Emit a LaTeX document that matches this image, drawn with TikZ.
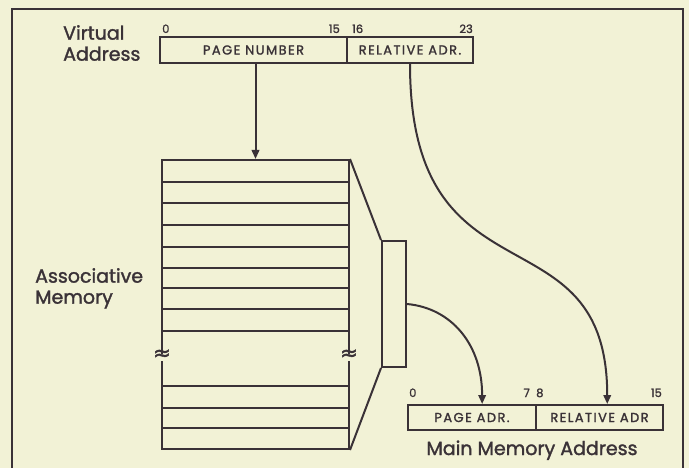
\documentclass[tikz,border=0pt]{standalone}
\usepackage{fontspec}
\setmainfont{Poppins}[FakeBold=1.6]
\newfontfamily\capfont{Poppins}[LetterSpace=11,FakeBold=1.6]
\newfontfamily\symfont{DejaVu Sans}[FakeBold=2]
\usetikzlibrary{arrows.meta,calc}
\definecolor{paper}{RGB}{242,242,214}
\definecolor{ink}{RGB}{58,50,55}
\tikzset{
  field/.style={draw=ink, line width=2pt, minimum height=26pt, inner sep=0pt,
    text=ink, font=\capfont\fontsize{13}{13}\selectfont},
  block/.style={draw=ink, line width=2pt, inner sep=0pt},
  bitno/.style={inner sep=0pt, text=ink, font=\fontsize{11.5}{11.5}\selectfont},
  caption/.style={inner sep=0pt, text=ink, align=left, font=\fontsize{19}{21}\selectfont},
  brk/.style={fill=paper, inner sep=0.5pt, text height=6pt, text depth=0pt, text=ink,
    font=\symfont\fontsize{21}{21}\selectfont},
  tip/.style={-{Triangle[length=9pt,width=7.5pt]}},
  wire/.style={draw=ink, line width=2pt},
}
\begin{document}
\begin{tikzpicture}[x=1pt,y=-1pt]
\fill[paper] (0,0) rectangle (689,468);
\useasboundingbox (0,0) rectangle (689,468);

% outer frame
\draw[ink, line width=2.6pt] (12,468) -- (12,9) -- (683,9) -- (683,468);

% virtual address register
\node[field, minimum width=187pt] (vpage) at (253.5,50) {PAGE NUMBER};
\node[field, minimum width=126pt] (vrel) at (410,50) {RELATIVE ADR.};
\node[bitno, anchor=base west] (v0) at (162,33) {0};
\node[bitno, anchor=base east] (v15) at (340,33) {15};
\node[bitno, anchor=base west] (v16) at (352,33) {16};
\node[bitno, anchor=base east] (v23) at (473,33) {23};
\node[caption, anchor=north west] (vlab) at (63,25) {Virtual\\Address};

% associative memory
\node[block, minimum width=187pt, minimum height=289pt] (mem) at (255.5,304.5) {};
\foreach \y in {181.7,202.7,225,246.7,267.7,288.3,309.3,331,385.7,407.7,428.3}
  \draw[ink, line width=1.8pt] (162,\y) -- (349,\y);
\node[brk] (brkl) at (162,357) {≈};
\node[brk] (brkr) at (349,357) {≈};
\node[caption, anchor=north west] (mlab) at (35,268) {Associative\\Memory};

% output register of the associative memory
\node[block, minimum width=24pt, minimum height=126pt] (reg) at (394,304) {};
\draw[wire] (mem.north east) -- (reg.north west);
\draw[wire] (mem.south east) -- (reg.south west);

% main memory address
\node[field, minimum width=128pt, minimum height=25pt] (mpage) at (472,417.5) {PAGE ADR.};
\node[field, minimum width=127pt, minimum height=25pt] (mrel) at (599.5,417.5) {RELATIVE ADR};
\node[bitno, anchor=base west] (m0) at (409,397) {0};
\node[bitno, anchor=base east] (m7) at (530,397) {7};
\node[bitno, anchor=base west] (m8) at (536,397) {8};
\node[bitno, anchor=base east] (m15) at (662,397) {15};
\node[caption, anchor=base] (alab) at (532,455) {Main Memory Address};

% connectors
\coordinate (pin) at ($(mpage.north west)!0.578!(mpage.north east)$);
\coordinate (rin) at ($(mrel.north west)!0.56!(mrel.north east)$);
\draw[wire, tip] (vpage.south -| mem.north) -- (mem.north);
\draw[wire, tip] (reg.east) .. controls +(44,4) and +(0,-60) .. (pin);
\draw[wire, tip] (vrel.south) .. controls +(0,248) and +(0,-200) .. (rin);
\end{tikzpicture}
\end{document}
